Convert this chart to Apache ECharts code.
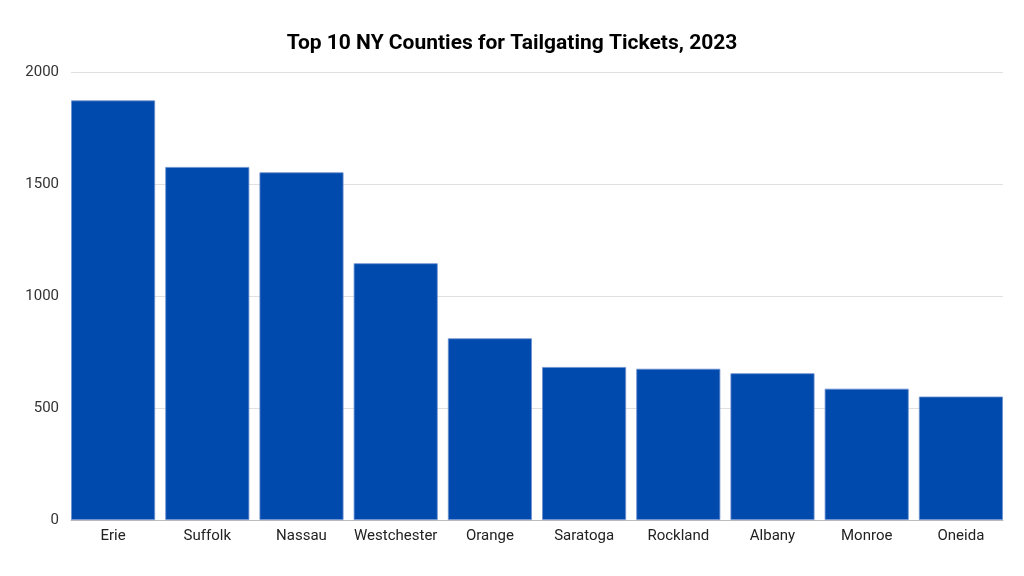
<!DOCTYPE html>
<html>
<head>
<meta charset="utf-8">
<script src="https://cdn.jsdelivr.net/npm/echarts@6/dist/echarts.min.js"></script>
<style>html,body{margin:0;padding:0;background:#fff}#c{width:1024px;height:576px}</style>
</head>
<body>
<div id="c"></div>
<script>
const categories = ["Erie","Suffolk","Nassau","Westchester","Orange","Saratoga","Rockland","Albany","Monroe","Oneida"];
const tickets = [1873,1576,1552,1146,811,683,675,655,586,551];
const yTicks = [0,500,1000,1500,2000];

const yMin = yTicks[0], yMax = yTicks[yTicks.length-1];
const chart = echarts.init(document.getElementById('c'));
chart.setOption({
  animation: false,
  title: {
    text: 'Top 10 NY Counties for Tailgating Tickets, 2023',
    left: 'center', top: 28,
    textStyle: {fontFamily: 'Roboto', fontWeight: 'bold', fontSize: 21, color: '#000'}
  },
  grid: [
    {left: 71, right: 21, top: 72, bottom: 56},
    {left: 66, right: 16, top: 72, bottom: 56}
  ],
  xAxis: [
    {
      type: 'category', gridIndex: 0, data: categories,
      axisLine: {lineStyle: {color: '#bdbdbd', width: 1}},
      axisTick: {show: false}, axisLabel: {show: false}
    },
    {
      type: 'category', gridIndex: 1, data: categories,
      axisLine: {show: false}, axisTick: {show: false},
      axisLabel: {fontFamily: 'Roboto', fontSize: 15, color: '#222', margin: 9, interval: 0}
    }
  ],
  yAxis: [
    {
      type: 'value', gridIndex: 0, min: yMin, max: yMax, interval: 500,
      axisLine: {show: false}, axisTick: {show: false},
      splitLine: {lineStyle: {color: '#e0e0e0', width: 1}},
      axisLabel: {fontFamily: 'Roboto', fontSize: 15, color: '#333', margin: 12, formatter: v => String(v)}
    },
    {
      type: 'value', gridIndex: 1, min: yMin, max: yMax, interval: 500,
      show: false, splitLine: {show: false}
    }
  ],
  series: [{
    type: 'bar', xAxisIndex: 1, yAxisIndex: 1, data: tickets, barWidth: 84,
    itemStyle: {color: '#004aad', borderColor: '#6c8fd0', borderWidth: 0.8},
    z: 3
  }]
});
</script>
</body>
</html>
